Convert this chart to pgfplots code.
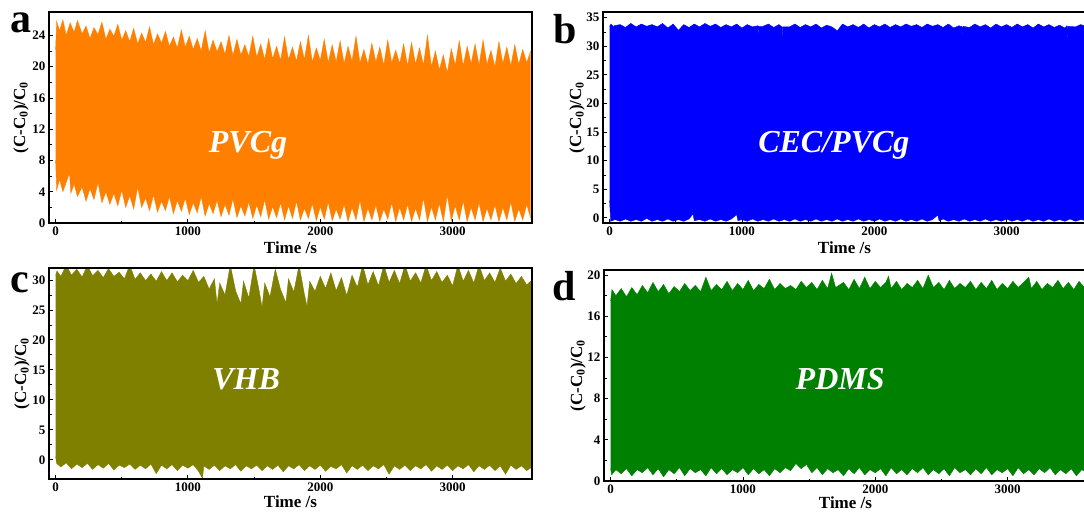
\documentclass[border=0pt]{standalone}
\usepackage{fontspec}
\setmainfont{Liberation Serif}
\usepackage{pgfplots}
\pgfplotsset{compat=1.18}
\usepgfplotslibrary{fillbetween}

\definecolor{cA}{RGB}{255,128,0}
\definecolor{cB}{RGB}{0,0,255}
\definecolor{cC}{RGB}{128,128,0}
\definecolor{cD}{RGB}{0,128,0}

\pgfplotsset{
  panel/.style={
    scale only axis, width=483pt, height=211pt,
    xmin=-50, xmax=3600, xtick={0,1000,2000,3000}, minor x tick num=1,
    tick align=inside, xtick pos=bottom, ytick pos=left,
    axis line style={line width=1.2pt},
    major tick length=4pt, minor tick length=2.5pt,
    every tick/.style={black, line width=0.9pt},
    ticklabel style={font=\fontsize{13}{13}\selectfont\bfseries},
    /pgf/number format/assume math mode=true,
    /pgf/number format/1000 sep={},
    label style={font=\fontsize{17}{17}\selectfont\bfseries},
    xlabel={Time /s},
    ylabel={(C-C\textsubscript{0})/C\textsubscript{0}},
    ylabel style={rotate=0, anchor=center},
    xlabel style={anchor=center},
    axis on top,
  },
}
\tikzset{samplelbl/.style={white, anchor=base, font=\fontsize{32}{32}\selectfont\bfseries\itshape}}
\newcommand\letter[3]{\node[anchor=base west, inner sep=0pt, font=\fontsize{42}{42}\selectfont\bfseries] at (#1pt,-#2pt) {#3};}

\begin{document}
\begin{tikzpicture}[x=1pt,y=1pt]

% ---- a: PVCg ----
\begin{axis}[panel, at={(49pt,-12pt)}, anchor=north west,
  ymin=0, ymax=27, ytick={0,4,...,24}, minor y tick num=1,
  ylabel style={at={(axis description cs:-0.058,0.5)}},
  xlabel style={at={(axis description cs:0.5,-0.118)}}]
\addplot[cA, line width=0.4pt, name path=aU] coordinates {
(0,22.2)(8,25.8)(30,24.6)(55,26.0)(80,24.0)(110,25.6)(140,24.4)(165,25.9)(200,24.2)(230,25.2)
(260,23.6)(290,25.0)(320,24.1)(350,25.7)(380,23.5)(410,24.8)(440,23.9)(470,25.4)(500,23.4)(530,24.6)
(560,23.2)(590,24.9)(620,22.9)(650,24.3)(680,23.1)(710,25.1)(740,22.8)(770,24.2)(800,23.0)(830,24.5)
(860,22.6)(890,23.8)(920,22.4)(950,24.7)(980,22.5)(1010,23.9)(1040,22.2)(1070,23.6)(1100,22.0)(1130,24.6)
(1160,21.8)(1190,23.4)(1220,21.9)(1250,23.2)(1280,21.6)(1310,24.0)(1340,21.4)(1370,23.5)(1400,21.5)(1430,22.8)
(1460,21.3)(1490,23.9)(1520,21.2)(1550,22.9)(1580,20.9)(1610,23.6)(1640,21.0)(1670,22.6)(1700,20.8)(1730,23.8)
(1760,20.9)(1790,22.5)(1820,20.7)(1850,23.2)(1880,20.9)(1910,24.0)(1940,20.6)(1970,22.4)(2000,20.8)(2030,23.5)
(2060,20.5)(2090,22.8)(2120,20.6)(2150,23.3)(2180,20.4)(2210,22.6)(2240,20.7)(2270,23.9)(2300,20.5)(2330,22.2)
(2360,20.3)(2390,23.0)(2420,20.6)(2450,22.5)(2480,20.2)(2510,23.4)(2540,20.5)(2570,22.1)(2600,20.4)(2630,22.9)
(2660,20.1)(2690,23.1)(2720,20.3)(2750,22.4)(2780,20.2)(2810,24.0)(2840,20.0)(2870,22.0)(2900,19.6)(2930,21.5)
(2960,19.2)(2990,22.3)(3020,20.2)(3050,23.3)(3080,20.1)(3110,22.6)(3140,20.4)(3170,22.9)(3200,20.2)(3230,23.4)
(3260,20.3)(3290,22.1)(3320,20.0)(3350,23.2)(3380,20.4)(3410,22.5)(3440,20.1)(3470,22.8)(3500,20.3)(3530,22.2)
(3560,20.5)(3590,22.0)};
\addplot[cA, line width=0.4pt, name path=aL] coordinates {
(0,8.0)(8,4.2)(30,5.6)(55,4.0)(80,5.2)(105,6.4)(115,3.8)(140,5.0)(165,3.4)(200,4.6)
(230,2.8)(260,4.4)(290,3.0)(320,5.2)(350,2.6)(380,4.0)(410,2.4)(440,3.8)(470,2.2)(500,4.2)
(530,2.0)(560,3.5)(590,1.8)(620,4.6)(650,2.0)(680,3.2)(710,1.6)(740,3.6)(770,1.4)(800,2.8)
(830,1.6)(860,3.4)(890,1.2)(920,2.9)(950,1.5)(980,3.2)(1010,1.1)(1040,2.6)(1070,1.3)(1100,3.4)
(1130,0.9)(1160,2.5)(1190,1.2)(1220,2.9)(1250,0.8)(1280,2.4)(1310,1.0)(1340,3.1)(1370,0.7)(1400,2.2)
(1430,0.9)(1460,2.7)(1490,0.6)(1520,2.3)(1550,0.8)(1580,3.0)(1610,0.5)(1640,2.1)(1670,0.7)(1700,2.6)
(1730,0.4)(1760,2.2)(1790,0.6)(1820,2.8)(1850,0.4)(1880,1.9)(1910,0.6)(1940,2.5)(1970,0.3)(2000,2.1)
(2030,0.5)(2060,2.7)(2090,0.3)(2120,1.8)(2150,0.5)(2180,2.4)(2210,0.2)(2240,2.0)(2270,0.4)(2300,2.9)
(2330,0.2)(2360,1.9)(2390,0.4)(2420,2.3)(2450,0.2)(2480,1.8)(2510,0.5)(2540,2.6)(2570,0.2)(2600,2.0)
(2630,0.4)(2660,2.4)(2690,0.2)(2720,1.9)(2750,0.4)(2780,3.2)(2810,0.2)(2840,2.1)(2870,0.4)(2900,2.5)
(2930,0.2)(2960,3.6)(2990,0.3)(3020,2.2)(3050,0.4)(3080,2.8)(3110,0.2)(3140,2.0)(3170,0.4)(3200,2.6)
(3230,0.2)(3260,1.9)(3290,0.4)(3320,2.3)(3350,0.2)(3380,2.0)(3410,0.4)(3440,2.7)(3470,0.2)(3500,1.8)
(3530,0.4)(3560,2.4)(3590,0.6)};
\addplot[fill=cA, draw=none] fill between[of=aU and aL];
\node[samplelbl] at (rel axis cs:0.412,0.336) {PVCg};
\end{axis}

% ---- b: CEC/PVCg ----
\begin{axis}[panel, at={(603pt,-12pt)}, anchor=north west,
  ymin=-0.9, ymax=36, ytick={0,5,...,35}, minor y tick num=1,
  ylabel style={at={(axis description cs:-0.054,0.5)}},
  xlabel style={at={(axis description cs:0.5,-0.118)}}]
\addplot[cB, line width=0.4pt, name path=bU] coordinates {
(0,33.5)(10,33.9)(27,33.5)(30,31.8)(33,33.6)(80,33.8)(120,33.3)(160,34.0)(200,33.4)(240,33.9)
(280,33.5)(320,33.8)(360,33.4)(400,34.0)(440,33.2)(480,33.9)(520,32.8)(560,33.8)(600,33.3)(640,33.9)
(680,33.4)(720,34.0)(760,33.5)(800,33.9)(840,33.3)(880,33.8)(920,33.4)(960,33.9)(1000,33.2)(1040,33.8)
(1080,33.4)(1120,33.6)(1123,30.6)(1126,33.5)(1160,33.5)(1200,33.9)(1240,33.3)(1280,33.8)(1301,33.4)(1304,30.6)
(1307,33.4)(1360,33.4)(1400,33.9)(1440,33.3)(1480,33.8)(1520,33.4)(1560,33.9)(1600,33.2)(1640,33.7)(1680,33.4)
(1720,32.7)(1760,33.9)(1800,33.4)(1840,33.8)(1880,33.3)(1920,33.9)(1960,33.2)(2000,33.8)(2040,33.4)(2080,33.9)
(2120,33.3)(2160,33.8)(2200,33.4)(2240,33.9)(2280,33.5)(2320,33.8)(2360,33.3)(2400,33.9)(2440,33.5)(2480,33.8)
(2520,33.3)(2560,33.9)(2600,33.2)(2640,33.6)(2665,33.4)(2668,31.1)(2671,33.5)(2720,33.3)(2760,33.9)(2800,33.4)
(2840,33.8)(2880,33.2)(2920,33.9)(2960,33.4)(3000,33.8)(3040,33.3)(3080,33.9)(3120,33.4)(3160,33.8)(3200,33.2)
(3240,33.9)(3280,33.4)(3320,33.8)(3360,33.3)(3400,33.7)(3440,33.2)(3456,33.6)(3459,30.5)(3462,33.5)(3520,33.4)
(3560,33.8)(3600,33.5)};
\addplot[cB, line width=0.4pt, name path=bL] coordinates {
(0,3.0)(8,-0.6)(40,-0.3)(80,-0.6)(120,-0.2)(160,-0.6)(200,-0.3)(240,-0.6)(280,-0.1)(320,-0.6)
(360,-0.3)(400,-0.6)(440,-0.2)(480,-0.6)(520,-0.3)(560,-0.6)(600,-0.2)(630,0.7)(640,-0.5)(680,-0.3)
(720,-0.6)(760,-0.2)(800,-0.6)(840,-0.3)(880,-0.6)(920,-0.2)(960,0.6)(970,-0.5)(1000,-0.3)(1040,-0.6)
(1080,-0.2)(1120,-0.6)(1160,-0.3)(1200,-0.6)(1240,-0.2)(1280,-0.6)(1320,-0.3)(1360,-0.6)(1400,-0.2)(1440,-0.6)
(1480,-0.3)(1520,-0.6)(1560,-0.2)(1600,-0.6)(1640,-0.3)(1680,-0.6)(1720,-0.2)(1760,-0.6)(1800,-0.3)(1840,-0.6)
(1880,-0.2)(1920,-0.6)(1960,-0.3)(2000,-0.6)(2040,-0.2)(2080,-0.6)(2120,-0.3)(2160,-0.6)(2200,-0.2)(2240,-0.6)
(2280,-0.3)(2320,-0.6)(2360,-0.2)(2400,-0.6)(2440,-0.3)(2480,0.5)(2490,-0.5)(2520,-0.2)(2560,-0.6)(2600,-0.3)
(2640,-0.6)(2680,-0.2)(2720,-0.6)(2760,-0.3)(2800,-0.6)(2840,-0.2)(2880,-0.6)(2920,-0.3)(2960,-0.6)(3000,-0.2)
(3040,-0.6)(3080,-0.3)(3120,-0.6)(3160,-0.2)(3200,-0.6)(3240,-0.3)(3280,-0.6)(3320,-0.2)(3360,-0.6)(3400,-0.3)
(3440,-0.6)(3480,-0.2)(3520,-0.6)(3560,-0.3)(3600,-0.5)};
\addplot[fill=cB, draw=none] fill between[of=bU and bL];
\node[samplelbl] at (rel axis cs:0.478,0.336) {CEC/PVCg};
\end{axis}

% ---- c: VHB ----
\begin{axis}[panel, at={(49pt,-268pt)}, anchor=north west,
  ymin=-3.2, ymax=32, ytick={0,5,...,30}, minor y tick num=1,
  ylabel style={at={(axis description cs:-0.056,0.5)}},
  xlabel style={at={(axis description cs:0.5,-0.106)}}]
\addplot[cC, line width=0.4pt, name path=cU] coordinates {
(0,30.8)(10,31.5)(40,30.6)(80,32.5)(120,30.8)(160,31.8)(200,30.5)(240,32.4)(280,30.7)(320,31.6)
(360,30.4)(400,31.9)(440,30.6)(480,31.3)(520,30.2)(560,32.5)(600,30.1)(640,31.2)(680,29.9)(720,31.0)
(760,29.8)(800,31.4)(840,29.9)(880,31.2)(920,29.7)(960,30.8)(1000,29.9)(1040,31.6)(1080,29.6)(1120,30.6)
(1160,28.5)(1200,30.2)(1220,26.0)(1240,29.5)(1280,27.5)(1320,32.5)(1360,28.2)(1400,26.0)(1420,29.8)(1460,27.0)
(1500,32.5)(1540,28.0)(1560,25.4)(1580,29.5)(1620,27.2)(1660,31.8)(1700,28.4)(1740,26.2)(1760,30.2)(1800,28.0)
(1840,32.5)(1880,27.6)(1900,25.6)(1920,29.8)(1960,28.1)(2000,30.6)(2040,28.6)(2080,31.2)(2120,28.2)(2160,30.4)
(2200,27.4)(2240,30.8)(2280,28.8)(2320,32.5)(2360,29.2)(2400,31.4)(2440,29.0)(2480,32.5)(2520,29.6)(2560,31.6)
(2600,29.4)(2640,32.5)(2680,29.8)(2720,31.2)(2760,29.5)(2800,32.5)(2840,29.9)(2880,31.4)(2920,29.6)(2960,30.8)
(3000,29.0)(3040,32.5)(3080,29.8)(3120,31.6)(3160,29.5)(3200,32.5)(3240,29.9)(3280,31.2)(3320,29.6)(3360,32.0)
(3400,29.8)(3440,31.0)(3480,29.4)(3520,30.6)(3560,29.2)(3600,30.0)};
\addplot[cC, line width=0.4pt, name path=cL] coordinates {
(0,0.5)(8,-0.6)(40,-1.2)(80,-0.5)(120,-1.5)(160,-0.7)(200,-1.3)(240,-0.6)(280,-1.6)(320,-0.8)
(360,-1.4)(400,-0.6)(440,-1.7)(480,-0.9)(520,-1.3)(560,-0.7)(600,-1.6)(640,-0.9)(680,-1.5)(720,-0.7)
(760,-2.3)(800,-0.9)(840,-1.5)(880,-0.8)(920,-1.8)(960,-0.9)(1000,-1.4)(1040,-0.8)(1080,-1.9)(1110,-3.1)
(1120,-1.0)(1160,-1.6)(1200,-0.9)(1240,-1.8)(1280,-1.0)(1320,-1.5)(1360,-0.8)(1400,-1.9)(1440,-1.0)(1480,-1.5)
(1520,-0.9)(1560,-1.8)(1600,-1.0)(1640,-1.6)(1680,-0.9)(1720,-2.0)(1760,-1.0)(1800,-1.5)(1840,-0.8)(1880,-1.8)
(1920,-1.0)(1960,-1.6)(2000,-0.9)(2040,-1.9)(2080,-1.1)(2120,-1.5)(2160,-0.8)(2200,-2.2)(2240,-1.0)(2280,-1.6)
(2320,-0.9)(2360,-1.8)(2400,-1.0)(2440,-1.5)(2480,-0.8)(2520,-2.4)(2560,-1.0)(2600,-1.6)(2640,-0.9)(2680,-1.8)
(2720,-1.0)(2760,-1.5)(2800,-0.8)(2840,-1.9)(2880,-1.0)(2920,-1.6)(2960,-0.9)(3000,-1.8)(3040,-1.0)(3080,-1.5)
(3120,-0.8)(3160,-2.0)(3200,-1.0)(3240,-1.6)(3280,-0.9)(3320,-1.8)(3360,-1.0)(3400,-2.4)(3440,-0.9)(3480,-1.6)
(3520,-1.0)(3560,-1.8)(3600,-1.2)};
\addplot[fill=cC, draw=none] fill between[of=cU and cL];
\node[samplelbl] at (rel axis cs:0.408,0.425) {VHB};
\end{axis}

% ---- d: PDMS ----
\begin{axis}[panel, at={(604pt,-270pt)}, anchor=north west,
  ymin=0, ymax=20.5, ytick={0,4,...,20}, minor y tick num=1,
  ylabel style={at={(axis description cs:-0.054,0.5)}},
  xlabel style={at={(axis description cs:0.5,-0.104)}}]
\addplot[cD, line width=0.4pt, name path=dU] coordinates {
(0,17.5)(10,18.6)(40,18.0)(80,18.7)(120,17.9)(160,18.8)(200,18.1)(240,19.0)(280,18.3)(320,19.3)
(360,18.4)(400,19.1)(440,18.2)(480,18.9)(520,18.4)(560,19.2)(600,18.5)(640,19.0)(680,18.4)(720,19.8)
(760,18.5)(800,19.1)(840,18.6)(880,19.4)(920,18.5)(960,19.2)(1000,18.6)(1040,19.5)(1080,18.5)(1120,19.1)
(1160,18.7)(1200,19.6)(1240,18.6)(1280,19.2)(1320,18.7)(1360,19.0)(1400,18.6)(1440,19.4)(1480,18.8)(1520,19.3)
(1560,18.6)(1600,19.5)(1640,18.7)(1670,20.2)(1700,18.8)(1760,19.3)(1800,18.6)(1840,19.6)(1880,18.7)(1920,19.8)
(1960,18.7)(2000,19.4)(2040,18.8)(2080,19.3)(2100,19.9)(2120,18.7)(2160,19.4)(2200,18.6)(2240,19.2)(2280,18.8)
(2320,19.5)(2360,18.7)(2400,20.0)(2440,18.8)(2480,19.3)(2520,18.6)(2560,19.5)(2600,18.7)(2640,19.2)(2680,18.8)
(2720,19.4)(2760,18.6)(2800,19.3)(2840,18.7)(2880,19.5)(2920,18.6)(2960,19.2)(3000,18.7)(3040,19.4)(3080,18.8)
(3120,19.3)(3160,19.8)(3180,18.7)(3220,19.4)(3260,18.6)(3300,19.2)(3340,18.8)(3380,19.5)(3420,18.7)(3460,19.3)
(3500,18.6)(3540,19.4)(3580,18.8)(3600,19.1)};
\addplot[cD, line width=0.4pt, name path=dL] coordinates {
(0,1.2)(8,0.6)(40,1.1)(80,0.7)(120,1.2)(160,0.5)(200,1.1)(240,0.8)(280,1.3)(320,0.6)
(360,1.2)(400,0.4)(440,1.1)(480,0.7)(520,1.3)(560,0.5)(600,1.2)(640,0.8)(680,1.1)(720,0.5)
(760,1.3)(800,0.7)(840,1.2)(880,0.6)(920,1.1)(960,0.8)(1000,1.3)(1040,0.6)(1080,1.2)(1120,0.7)
(1160,1.1)(1200,0.5)(1240,1.2)(1280,0.8)(1320,1.3)(1360,1.0)(1400,1.7)(1440,1.2)(1480,1.6)(1520,0.8)
(1560,1.3)(1600,0.6)(1640,1.2)(1680,0.8)(1720,1.1)(1760,0.5)(1800,1.2)(1840,0.7)(1880,1.3)(1920,0.6)
(1960,1.1)(2000,0.8)(2040,1.2)(2080,0.5)(2120,1.3)(2160,0.7)(2200,1.1)(2240,0.6)(2280,1.2)(2320,0.8)
(2360,1.3)(2400,0.6)(2440,1.1)(2480,0.7)(2520,1.2)(2560,0.5)(2600,1.3)(2640,0.8)(2680,1.1)(2720,0.6)
(2760,1.2)(2800,0.7)(2840,1.3)(2880,0.6)(2920,1.1)(2960,0.8)(3000,1.2)(3040,0.5)(3080,1.3)(3120,0.7)
(3160,1.1)(3200,0.6)(3240,1.2)(3280,0.8)(3320,1.3)(3360,0.6)(3400,1.1)(3440,0.7)(3480,1.2)(3520,0.5)
(3560,1.1)(3600,0.8)};
\addplot[fill=cD, draw=none] fill between[of=dU and dL];
\node[samplelbl] at (rel axis cs:0.489,0.434) {PDMS};
\end{axis}

\letter{10}{32}{a}
\letter{553}{43}{b}
\letter{10}{292}{c}
\letter{552}{300}{d}
\pgfresetboundingbox
\path[use as bounding box] (0,0) rectangle (1084,-514);
\end{tikzpicture}
\end{document}
